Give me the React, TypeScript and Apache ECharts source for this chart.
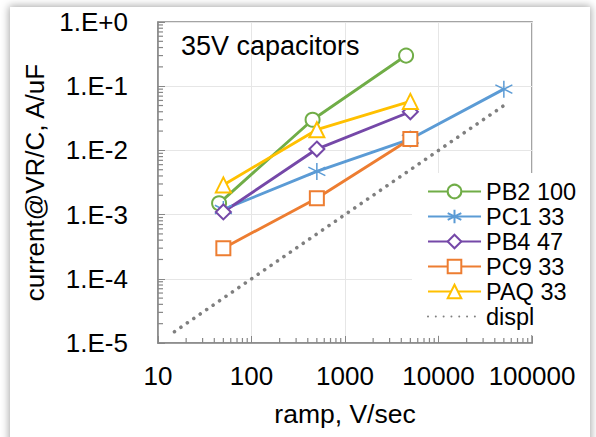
import React, { useEffect, useRef } from "react";
import * as echarts from "echarts";

// Leakage current per capacitance vs. voltage ramp rate (log-log)
const pb2Ramp = [45, 450, 4500];
const pb2Current = [0.0015, 0.03, 0.3];

const pc1Ramp = [50, 500, 5000, 50000];
const pc1Current = [0.0012, 0.0047, 0.015, 0.09];

const pb4Ramp = [50, 500, 5000];
const pb4Current = [0.0011, 0.0105, 0.04];

const pc9Ramp = [50, 500, 5000];
const pc9Current = [0.0003, 0.0018, 0.015];

const paqRamp = [50, 500, 5000];
const paqCurrent = [0.0029, 0.021, 0.058];

// displacement current C·dV/dt reference line
const displRamp = [15, 50000];
const displCurrent = [1.5e-5, 0.05];

const seriesNames = ["PB2 100", "PC1 33", "PB4 47", "PC9 33", "PAQ 33", "displ"];

const xMin = 10;
const xMax = 100000;
const yMin = 1e-5;
const yMax = 1;

const FONT = "'Liberation Sans', Arial, sans-serif";
const AXIS_GRAY = "#878787";

const pairs = (xs: number[], ys: number[]) => xs.map((x, i) => [x, ys[i]]);

// minor log ticks (2..9 within each decade)
const minorTicks = (lo: number, hi: number) => {
  const out: number[] = [];
  for (let d = lo; d < hi; d *= 10) {
    for (let k = 2; k <= 9; k++) out.push(k * d);
  }
  return out;
};

const starPath =
  "path://M0,-1L0,1M-0.866,-0.5L0.866,0.5M-0.866,0.5L0.866,-0.5";

function lineSeries(
  name: string,
  xs: number[],
  ys: number[],
  color: string,
  symbol: string,
  symbolSize: number,
  borderWidth = 2
) {
  return {
    name,
    type: "line",
    data: pairs(xs, ys),
    color,
    symbol,
    symbolSize,
    showSymbol: true,
    lineStyle: { color, width: 2.9 },
    itemStyle: { color, borderColor: color, borderWidth },
    emphasis: { disabled: true },
    z: 3,
  };
}

export default function App() {
  const ref = useRef<HTMLDivElement>(null);

  useEffect(() => {
    if (!ref.current) return;
    const chart = echarts.init(ref.current, null, { renderer: "svg" });

    const tickItem = (params: any, api: any, dir: "x" | "y") => {
      const p = api.coord([api.value(0), api.value(1)]);
      return {
        type: "line",
        shape:
          dir === "x"
            ? { x1: p[0], y1: p[1], x2: p[0], y2: p[1] - 5 }
            : { x1: p[0], y1: p[1], x2: p[0] + 5, y2: p[1] },
        style: { stroke: AXIS_GRAY, lineWidth: 1.2 },
      };
    };

    chart.setOption({
      animation: false,
      backgroundColor: "transparent",
      textStyle: { fontFamily: FONT },
      title: {
        text: "35V capacitors",
        left: 176,
        top: 27,
        textStyle: { fontFamily: FONT, fontSize: 27, fontWeight: "normal", color: "#000" },
      },
      grid: {
        left: 158,
        top: 22,
        width: 374,
        height: 321,
        show: true,
        borderColor: AXIS_GRAY,
        borderWidth: 1.5,
        backgroundColor: "transparent",
      },
      legend: {
        data: seriesNames.map((n) =>
          n === "displ" ? { name: n, itemStyle: { opacity: 0 } } : { name: n }
        ),
        orient: "vertical",
        left: 412,
        top: 173,
        backgroundColor: "#fff",
        padding: [6, 10, 6, 15],
        itemWidth: 53,
        itemHeight: 17,
        itemGap: 0,
        textStyle: { fontFamily: FONT, fontSize: 23.5, color: "#000", lineHeight: 25 },
      },
      xAxis: {
        type: "log",
        logBase: 10,
        min: xMin,
        max: xMax,
        name: "ramp, V/sec",
        nameLocation: "middle",
        nameGap: 57,
        nameTextStyle: { fontFamily: FONT, fontSize: 26.5, color: "#000" },
        axisLine: { lineStyle: { color: AXIS_GRAY, width: 1.5 } },
        axisTick: { inside: true, length: 7, lineStyle: { color: AXIS_GRAY } },
        axisLabel: {
          fontFamily: FONT,
          fontSize: 26,
          color: "#000",
          margin: 20,
          formatter: (v: number) => String(Math.round(v)),
        },
        splitLine: { show: true, lineStyle: { color: "#e6e6e6", width: 1 } },
      },
      yAxis: {
        type: "log",
        logBase: 10,
        min: yMin,
        max: yMax,
        name: "current@VR/C, A/uF",
        nameLocation: "middle",
        nameGap: 105,
        nameTextStyle: { fontFamily: FONT, fontSize: 26, color: "#000" },
        axisLine: { lineStyle: { color: AXIS_GRAY, width: 1.5 } },
        axisTick: { inside: true, length: 7, lineStyle: { color: AXIS_GRAY } },
        axisLabel: {
          fontFamily: FONT,
          fontSize: 26,
          color: "#000",
          margin: 30,
          formatter: (v: number) => {
            const e = Math.round(Math.log10(v));
            return "1.E" + (e >= 0 ? "+" : "") + e;
          },
        },
        splitLine: { show: true, lineStyle: { color: "#e6e6e6", width: 1 } },
      },
      series: [
        {
          type: "custom",
          name: "xMinor",
          silent: true,
          data: minorTicks(xMin, xMax).map((v) => [v, yMin]),
          renderItem: (p: any, api: any) => tickItem(p, api, "x"),
          z: 2,
        },
        {
          type: "custom",
          name: "yMinor",
          silent: true,
          data: minorTicks(yMin, yMax).map((v) => [xMin, v]),
          renderItem: (p: any, api: any) => tickItem(p, api, "y"),
          z: 2,
        },
        // drawn in legend order, later series on top
        lineSeries("PB2 100", pb2Ramp, pb2Current, "#70AD47", "emptyCircle", 14, 2.5),
        lineSeries("PC1 33", pc1Ramp, pc1Current, "#5B9BD5", starPath, 17, 1.5),
        lineSeries("PB4 47", pb4Ramp, pb4Current, "#7548A8", "emptyDiamond", 15),
        lineSeries("PC9 33", pc9Ramp, pc9Current, "#ED7D31", "emptyRect", 14),
        lineSeries("PAQ 33", paqRamp, paqCurrent, "#FFC000", "emptyTriangle", 15),
        {
          name: "displ",
          type: "line",
          data: pairs(displRamp, displCurrent),
          color: "#7f7f7f",
          symbol: "none",
          lineStyle: { color: "#7f7f7f", width: 3.6, type: [0.01, 7.8], cap: "round" },
          emphasis: { disabled: true },
          z: 3,
        },
      ],
    });

    return () => chart.dispose();
  }, []);

  return (
    <div
      style={{
        position: "fixed",
        left: 0,
        top: 0,
        width: 596,
        height: 437,
        overflow: "hidden",
        background: "#fff",
      }}
    >
      <div
        style={{
          position: "absolute",
          left: 10,
          top: 7,
          width: 580,
          height: 460,
          background: "#fff",
          boxShadow: "0 0 8px 1px rgba(0,0,0,0.35)",
        }}
      />
      <div
        ref={ref}
        style={{ position: "absolute", left: 0, top: 0, width: 596, height: 437 }}
      />
    </div>
  );
}
